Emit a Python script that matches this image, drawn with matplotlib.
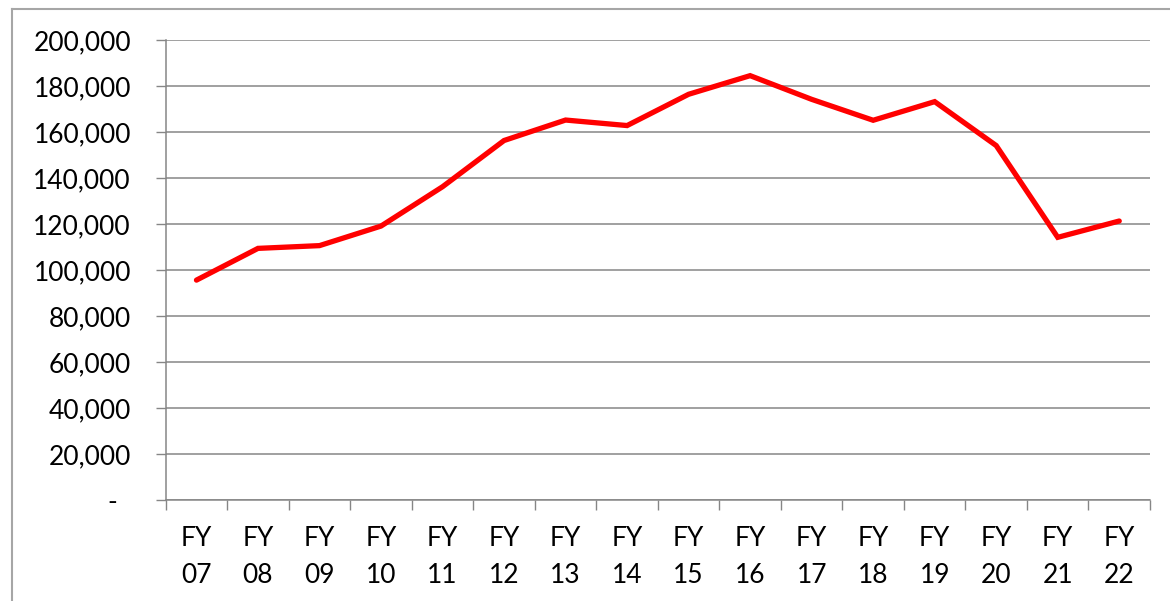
import matplotlib
matplotlib.use("Agg")
import matplotlib.pyplot as plt
from matplotlib.lines import Line2D
from matplotlib.ticker import FixedLocator, FixedFormatter

categories = ["FY\n07", "FY\n08", "FY\n09", "FY\n10", "FY\n11", "FY\n12", "FY\n13", "FY\n14",
              "FY\n15", "FY\n16", "FY\n17", "FY\n18", "FY\n19", "FY\n20", "FY\n21", "FY\n22"]
values = [95600, 109400, 110600, 119100, 136200, 156300, 165200, 162800,
          176400, 184500, 174200, 165100, 173200, 154100, 114200, 121300]
y_ticks = [0, 20000, 40000, 60000, 80000, 100000, 120000, 140000, 160000, 180000, 200000]
y_labels = ["-  ", "20,000", "40,000", "60,000", "80,000", "100,000", "120,000",
            "140,000", "160,000", "180,000", "200,000"]

plt.rcParams['font.family'] = ['Lato', 'DejaVu Sans']

W, H = 1170, 601
fig = plt.figure(figsize=(W / 100, H / 100), dpi=100)
ax = fig.add_axes([165.7 / W, 1 - 500 / H, (1150 - 165.7) / W, 460 / H])

x = list(range(len(values)))
ax.plot(x, values, color="#ff0000", linewidth=3.8, solid_joinstyle="miter", solid_capstyle="round", zorder=3)

ax.set_xlim(-0.5, len(values) - 0.5)
ax.set_ylim(0, 200000)

grid_c = "#868686"
ax.yaxis.set_major_locator(FixedLocator(y_ticks))
ax.yaxis.set_major_formatter(FixedFormatter(y_labels))
ax.grid(axis="y", color=grid_c, linewidth=1.1, zorder=1)

ax.xaxis.set_major_locator(FixedLocator([i - 0.5 for i in range(len(values) + 1)]))
ax.xaxis.set_major_formatter(FixedFormatter([""] * (len(values) + 1)))
ax.xaxis.set_minor_locator(FixedLocator(x))
ax.xaxis.set_minor_formatter(FixedFormatter(categories))

ax.tick_params(axis="y", which="major", direction="out", length=7, width=1, color=grid_c,
               labelsize=19, pad=18)
ax.tick_params(axis="x", which="major", direction="out", length=7, width=1, color=grid_c)
ax.tick_params(axis="x", which="minor", length=0, labelsize=19, pad=19)
for lab in ax.xaxis.get_minorticklabels():
    lab.set_linespacing(1.6)

for s in ["top", "right"]:
    ax.spines[s].set_visible(False)
for s in ["left", "bottom"]:
    ax.spines[s].set_color(grid_c)
    ax.spines[s].set_linewidth(1.1)

# outer chart border (left and top visible)
fig.add_artist(Line2D([11.5 / W, 11.5 / W], [0, 1 - 9 / H], transform=fig.transFigure,
                      color="#a6a6a6", linewidth=1.5))
fig.add_artist(Line2D([11.5 / W, 1], [1 - 9 / H, 1 - 9 / H], transform=fig.transFigure,
                      color="#a6a6a6", linewidth=1.5))

fig.savefig("out.png", dpi=100)
